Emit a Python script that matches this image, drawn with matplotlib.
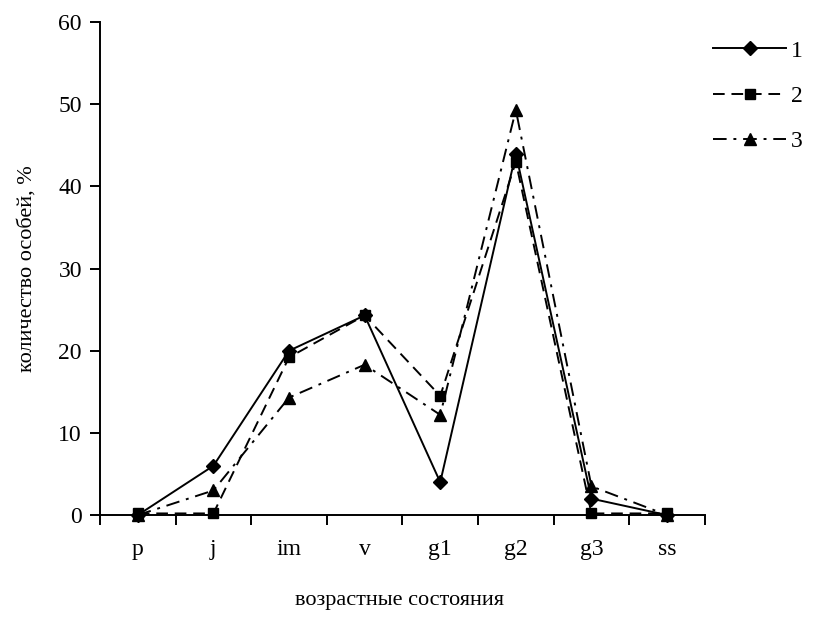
import matplotlib.pyplot as plt

plt.rcParams['font.family'] = ['Liberation Serif', 'DejaVu Serif']

# возрастные состояния
states = ['p', 'j', 'im', 'v', 'g1', 'g2', 'g3', 'ss']

# количество особей, % по трём выборкам
series_1 = [0, 6.0, 20.0, 24.3, 4.0, 44.0, 2.0, 0]
series_2 = [0.2, 0.2, 19.2, 24.3, 14.5, 43.0, 0.2, 0.2]
series_3 = [0, 3.0, 14.3, 18.3, 12.2, 49.3, 3.5, 0]
names = ['1', '2', '3']

fig = plt.figure(figsize=(8.13, 6.32), dpi=100)
ax = fig.add_axes([0.123, 0.185, 0.744, 0.780])

x = [i + 0.5 for i in range(len(states))]
styles = [
    dict(linestyle='-', marker='D', markersize=7),
    dict(linestyle=(0, (6, 3.5)), marker='s', markersize=7.5),
    dict(linestyle=(0, (7, 3.5, 1.5, 3.5)), marker='^', markersize=9),
]
lines = []
for vals, st, name in zip([series_1, series_2, series_3], styles, names):
    ln, = ax.plot(x, vals, color='black', linewidth=1.4, markerfacecolor='black',
                  markeredgecolor='black', label=name, clip_on=False, **st)
    lines.append(ln)

ax.set_xlim(0, len(states))
ax.set_ylim(0, 60)
ax.set_yticks(range(0, 61, 10))
ax.set_xticks(range(0, len(states) + 1))
ax.set_xticklabels([])
ax.set_xticks(x, minor=True)
ax.set_xticklabels(states, minor=True)
ax.tick_params(axis='x', which='minor', length=0, pad=17, labelsize=17)
ax.tick_params(axis='x', which='major', direction='out', length=7, width=1.4)
ax.tick_params(axis='y', direction='out', length=7, width=1.4, labelsize=17, pad=6)

for side in ['top', 'right']:
    ax.spines[side].set_visible(False)
for side in ['left', 'bottom']:
    ax.spines[side].set_linewidth(1.4)

ax.set_ylabel('количество особей, %', fontsize=16, labelpad=16)
fig.text(0.492, 0.043, 'возрастные состояния', ha='center', fontsize=16)

fig.legend(handles=lines, loc='upper left', bbox_to_anchor=(0.851, 0.97),
           frameon=False, fontsize=17, handlelength=3.1, labelspacing=1.0,
           handletextpad=0.2)

fig.savefig('out.png', dpi=100)
